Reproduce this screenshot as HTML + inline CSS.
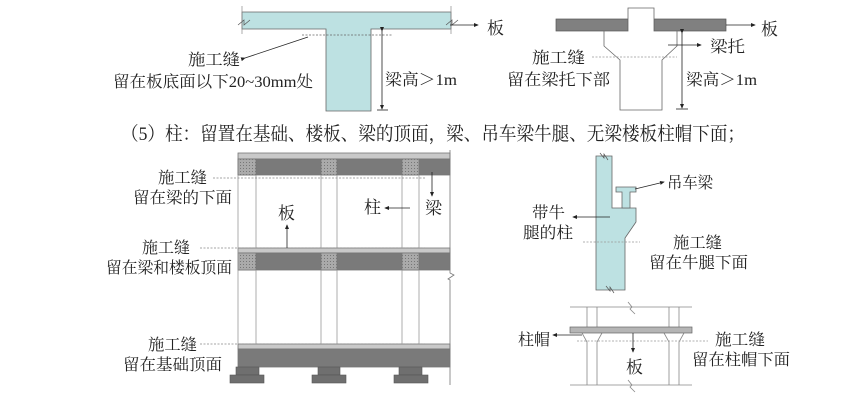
<!DOCTYPE html>
<html><head><meta charset="utf-8"><style>
html,body{margin:0;padding:0;background:#fff;}
svg{display:block;}
text{font-family:"Liberation Serif","Noto Serif CJK SC","Noto Sans CJK SC",serif;fill:#222;}
</style></head><body>
<svg width="865" height="407" viewBox="0 0 865 407" xmlns="http://www.w3.org/2000/svg">
<defs>
<marker id="ah" markerWidth="6" markerHeight="6" refX="5" refY="3" orient="auto"><path d="M0,0.5 L6,3 L0,5.5z" fill="#222"/></marker>
<pattern id="dots" width="3" height="3" patternUnits="userSpaceOnUse"><rect width="3" height="3" fill="#aaa"/><rect width="1" height="1" fill="#777"/></pattern>
</defs>
<g font-size="16" lengthAdjust="spacingAndGlyphs">
<!-- T-beam -->
<path d="M242,12 H451 V29 H371 V111 H326 V29 H242Z" fill="#bde1e2" stroke="#666" stroke-width="0.8"/>
<line x1="242" y1="6" x2="242" y2="34" stroke="#888" stroke-width="0.7"/>
<line x1="451" y1="6" x2="451" y2="34" stroke="#888" stroke-width="0.7"/>
<path d="M238,25 l6,-5 v5 l6,-5" stroke="#555" fill="none" stroke-width="0.7"/>
<path d="M446,25 l6,-5 v5 l6,-5" stroke="#555" fill="none" stroke-width="0.7"/>
<line x1="302" y1="35" x2="392" y2="35" stroke="#666" stroke-width="0.7" stroke-dasharray="2,1.5"/>
<line x1="382" y1="31" x2="382" y2="109" stroke="#222" stroke-width="0.8" marker-end="url(#ah)" marker-start="url(#ah)"/>
<line x1="377" y1="110" x2="388" y2="110" stroke="#222" stroke-width="0.8"/>
<line x1="450" y1="25" x2="478" y2="25" stroke="#222" stroke-width="0.8" marker-end="url(#ah)"/>
<text x="487" y="34" font-size="17">板</text>
<line x1="245" y1="58" x2="308" y2="37" stroke="#222" stroke-width="0.8" marker-start="url(#ah)"/>
<text x="188" y="65" textLength="52" lengthAdjust="spacingAndGlyphs">施工缝</text>
<text x="113" y="87" textLength="200" lengthAdjust="spacingAndGlyphs">留在板底面以下20~30mm处</text>
<text x="385" y="85" textLength="72" lengthAdjust="spacingAndGlyphs">梁高＞1m</text>
<!-- haunch beam -->
<rect x="556" y="19" width="72" height="12" fill="#808080" stroke="#555" stroke-width="0.7"/>
<rect x="654" y="19" width="72" height="12" fill="#808080" stroke="#555" stroke-width="0.7"/>
<path d="M628,31 V8 H654 V31 H677 V46 L662,60 V110 H620 V60 L604,46 V31Z" fill="#fff" stroke="#666" stroke-width="0.8"/>
<line x1="592" y1="57" x2="677" y2="57" stroke="#999" stroke-width="0.7" stroke-dasharray="2,1.5"/>
<line x1="682" y1="33" x2="682" y2="108" stroke="#222" stroke-width="0.8" marker-end="url(#ah)" marker-start="url(#ah)"/>
<line x1="676" y1="109" x2="688" y2="109" stroke="#222" stroke-width="0.8"/>
<line x1="726" y1="25" x2="755" y2="25" stroke="#222" stroke-width="0.8" marker-end="url(#ah)"/>
<text x="761" y="35" font-size="17">板</text>
<line x1="668" y1="45" x2="701" y2="45" stroke="#222" stroke-width="0.8" marker-end="url(#ah)"/>
<text x="710" y="52" textLength="35" lengthAdjust="spacingAndGlyphs">梁托</text>
<text x="532" y="63" textLength="53" lengthAdjust="spacingAndGlyphs">施工缝</text>
<text x="507" y="85" textLength="103" lengthAdjust="spacingAndGlyphs">留在梁托下部</text>
<text x="686" y="85" textLength="71" lengthAdjust="spacingAndGlyphs">梁高＞1m</text>
</g>
<text x="121" y="140" font-size="19" textLength="624" lengthAdjust="spacingAndGlyphs">（5）柱：留置在基础、楼板、梁的顶面，梁、吊车梁牛腿、无梁楼板柱帽下面；</text>
<!-- frame -->
<g stroke="#777" stroke-width="0.8">
<rect x="238" y="153" width="212" height="6" fill="#c9c9c9"/>
<rect x="238" y="159" width="212" height="16" fill="#7a7a7a"/>
<rect x="238" y="248" width="212" height="5" fill="#c9c9c9"/>
<rect x="238" y="253" width="212" height="17" fill="#7a7a7a"/>
<rect x="238" y="344" width="212" height="5" fill="#c9c9c9"/>
<rect x="238" y="349" width="212" height="18" fill="#7a7a7a"/>
<rect x="238" y="159" width="18" height="16" fill="url(#dots)"/>
<rect x="321" y="159" width="16" height="16" fill="url(#dots)"/>
<rect x="402" y="159" width="17" height="16" fill="url(#dots)"/>
<rect x="238" y="253" width="18" height="17" fill="url(#dots)"/>
<rect x="321" y="253" width="16" height="17" fill="url(#dots)"/>
<rect x="402" y="253" width="17" height="17" fill="url(#dots)"/>
</g>
<g stroke="#999" stroke-width="0.8">
<line x1="238" y1="175" x2="238" y2="344"/>
<line x1="256" y1="175" x2="256" y2="248"/><line x1="256" y1="270" x2="256" y2="344"/>
<line x1="321" y1="175" x2="321" y2="248"/><line x1="321" y1="270" x2="321" y2="344"/>
<line x1="337" y1="175" x2="337" y2="248"/><line x1="337" y1="270" x2="337" y2="344"/>
<line x1="402" y1="175" x2="402" y2="248"/><line x1="402" y1="270" x2="402" y2="344"/>
<line x1="419" y1="175" x2="419" y2="248"/><line x1="419" y1="270" x2="419" y2="344"/>
<path d="M450,150 V273 l4,2 l-6,4 l2,1 V385" fill="none" stroke="#777"/>
</g>
<g fill="#6f6f6f" stroke="#555" stroke-width="0.6">
<rect x="236" y="367" width="23" height="8"/><rect x="230" y="375" width="34" height="8"/>
<rect x="318" y="367" width="22" height="8"/><rect x="312" y="375" width="34" height="8"/>
<rect x="399" y="367" width="23" height="8"/><rect x="394" y="375" width="34" height="8"/>
</g>
<g stroke="#888" stroke-width="0.7" stroke-dasharray="2,1.5">
<line x1="213" y1="178" x2="425" y2="178"/>
<line x1="200" y1="248" x2="425" y2="248"/>
<line x1="200" y1="344" x2="425" y2="344"/>
</g>
<g font-size="16">
<text x="158" y="183" textLength="49" lengthAdjust="spacingAndGlyphs">施工缝</text>
<text x="133" y="203" textLength="99" lengthAdjust="spacingAndGlyphs">留在梁的下面</text>
<text x="142" y="253" textLength="48" lengthAdjust="spacingAndGlyphs">施工缝</text>
<text x="106" y="273" textLength="126" lengthAdjust="spacingAndGlyphs">留在梁和楼板顶面</text>
<text x="148" y="350" textLength="49" lengthAdjust="spacingAndGlyphs">施工缝</text>
<text x="123" y="370" textLength="99" lengthAdjust="spacingAndGlyphs">留在基础顶面</text>
<text x="278" y="219" font-size="17">板</text>
<line x1="287" y1="248" x2="287" y2="225" stroke="#222" stroke-width="0.8" marker-end="url(#ah)"/>
<text x="364" y="213" font-size="17">柱</text>
<line x1="410" y1="208" x2="385" y2="208" stroke="#222" stroke-width="0.8" marker-end="url(#ah)"/>
<text x="425" y="214" font-size="17">梁</text>
<line x1="432" y1="172" x2="432" y2="196" stroke="#222" stroke-width="0.8" marker-end="url(#ah)"/>
</g>
<!-- corbel column -->
<path d="M596,156 H612 V208 H636 V222 L625,238 V290 H596Z" fill="#bde1e2" stroke="#666" stroke-width="0.8"/>
<path d="M616,187 H636 V192 H630 V208 H622 V192 H616Z" fill="#bde1e2" stroke="#666" stroke-width="0.8"/>
<path d="M600,153 l4,5 v-4 l4,6" stroke="#555" fill="none" stroke-width="0.7"/>
<path d="M606,286 l4,5 v-4 l4,6" stroke="#555" fill="none" stroke-width="0.7"/>
<line x1="583" y1="242" x2="640" y2="242" stroke="#999" stroke-width="0.7" stroke-dasharray="2,1.5"/>
<g font-size="16">
<line x1="635" y1="189" x2="664" y2="182" stroke="#222" stroke-width="0.8" marker-end="url(#ah)"/>
<text x="667" y="188" textLength="46" lengthAdjust="spacingAndGlyphs">吊车梁</text>
<line x1="610" y1="217" x2="573" y2="217" stroke="#222" stroke-width="0.8" marker-end="url(#ah)"/>
<text x="532" y="218" textLength="33" lengthAdjust="spacingAndGlyphs">带牛</text>
<text x="523" y="238" textLength="50" lengthAdjust="spacingAndGlyphs">腿的柱</text>
<text x="673" y="248" textLength="49" lengthAdjust="spacingAndGlyphs">施工缝</text>
<text x="649" y="268" textLength="99" lengthAdjust="spacingAndGlyphs">留在牛腿下面</text>
</g>
<!-- flat slab -->
<g stroke="#888" stroke-width="0.8" fill="none">
<line x1="570" y1="307" x2="692" y2="307"/>
<line x1="570" y1="385" x2="692" y2="385"/>
<path d="M628,302 l4,5 l-2,2 l5,5" />
<path d="M628,380 l4,5 l-2,2 l5,5"/>
<line x1="587" y1="307" x2="587" y2="327"/><line x1="597" y1="307" x2="597" y2="327"/>
<line x1="669" y1="307" x2="669" y2="327"/><line x1="679" y1="307" x2="679" y2="327"/>
<path d="M582,333 L587,342 V385 M602,333 L597,342 V385"/>
<path d="M664,333 L669,342 V385 M684,333 L679,342 V385"/>
</g>
<rect x="570" y="327" width="122" height="6" fill="#b5b5b5" stroke="#666" stroke-width="0.7"/>
<line x1="577" y1="341" x2="708" y2="341" stroke="#999" stroke-width="0.7" stroke-dasharray="2,1.5"/>
<g font-size="16">
<line x1="582" y1="335" x2="553" y2="335" stroke="#222" stroke-width="0.8" marker-end="url(#ah)"/>
<text x="518" y="345" textLength="32" lengthAdjust="spacingAndGlyphs">柱帽</text>
<line x1="633" y1="333" x2="633" y2="352" stroke="#222" stroke-width="0.8" marker-end="url(#ah)"/>
<text x="626" y="373" font-size="17">板</text>
<text x="715" y="345" textLength="50" lengthAdjust="spacingAndGlyphs">施工缝</text>
<text x="692" y="365" textLength="98" lengthAdjust="spacingAndGlyphs">留在柱帽下面</text>
</g>
</svg>
</body></html>
